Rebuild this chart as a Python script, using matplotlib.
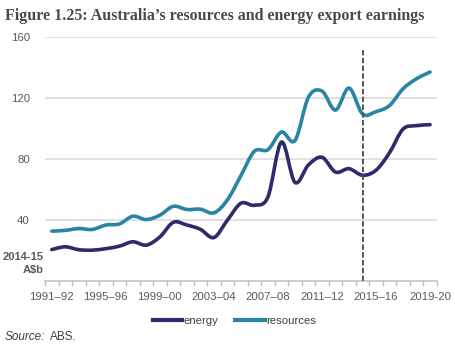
import matplotlib
matplotlib.use('Agg')
import matplotlib.pyplot as plt
import numpy as np
from matplotlib.path import Path
from matplotlib.patches import PathPatch

years = ['1991–92', '1992–93', '1993–94', '1994–95', '1995–96', '1996–97', '1997–98',
         '1998–99', '1999–00', '2000–01', '2001–02', '2002–03', '2003–04', '2004–05',
         '2005–06', '2006–07', '2007–08', '2008–09', '2009–10', '2010–11', '2011–12',
         '2012–13', '2013–14', '2014–15', '2015–16', '2016–17', '2017–18', '2018–19',
         '2019-20']
energy = [20.4, 22.2, 20.3, 20.0, 21.0, 22.6, 25.5, 23.3, 28.7, 38.3, 36.5, 33.7, 28.3,
          39.7, 50.8, 49.5, 55.0, 91.0, 64.5, 76.0, 81.0, 71.3, 73.5, 69.2, 72.5, 84.0,
          99.5, 101.8, 102.4]
resources = [32.5, 33.0, 34.2, 33.6, 36.5, 37.2, 42.3, 40.1, 43.0, 48.8, 46.7, 46.9, 44.5,
             53.0, 69.0, 85.0, 86.0, 97.6, 92.0, 120.5, 124.5, 112.0, 126.5, 109.5, 111.0,
             115.0, 126.0, 132.6, 137.0]

NAVY = '#2d2b6b'
TEAL = '#2a84a4'
GREY = '#595959'


def smooth_path(x, y, t=1/6):
    # catmull-rom style bezier through the data points (like excel smoothed lines)
    x = np.asarray(x, float)
    y = np.asarray(y, float)
    verts = [(x[0], y[0])]
    codes = [Path.MOVETO]
    n = len(x)
    for i in range(n - 1):
        i0 = max(i - 1, 0)
        i3 = min(i + 2, n - 1)
        c1 = (x[i] + (x[i + 1] - x[i0]) * t, y[i] + (y[i + 1] - y[i0]) * t)
        c2 = (x[i + 1] - (x[i3] - x[i]) * t, y[i + 1] - (y[i3] - y[i]) * t)
        verts += [c1, c2, (x[i + 1], y[i + 1])]
        codes += [Path.CURVE4] * 3
    return Path(verts, codes)


fig = plt.figure(figsize=(4.55, 3.46), dpi=100)
ax = fig.add_axes([0.099, 0.189, 0.861, 0.704])

xs = np.arange(len(years))
for vals, col in [(energy, NAVY), (resources, TEAL)]:
    ax.add_patch(PathPatch(smooth_path(xs, vals), facecolor='none', edgecolor=col,
                           lw=2.6, capstyle='round', joinstyle='round', zorder=3))
# empty lines for the legend
ax.plot([], [], color=NAVY, lw=3, label='energy')
ax.plot([], [], color=TEAL, lw=3, label='resources')

ax.vlines(years.index('2014–15'), 0, 152, colors='#555555', lw=1.4,
          linestyles=(0, (2.8, 1.2)), zorder=4)

ax.set_xlim(-0.5, len(years) - 0.5)
ax.set_ylim(0, 160)
ax.set_yticks([40, 80, 120, 160])
ax.yaxis.grid(True, color='#d9d9d9', lw=1.1)
ax.set_axisbelow(True)
for s in ['left', 'right', 'top']:
    ax.spines[s].set_visible(False)
ax.spines['bottom'].set_color('#bfbfbf')
ax.spines['bottom'].set_linewidth(1.1)

ax.set_xticks(xs[::4])
ax.set_xticklabels(years[::4])
ax.set_xticks(np.arange(-0.5, len(years), 1), minor=True)
ax.tick_params(axis='x', which='major', length=0, pad=8, labelsize=8.2, labelcolor=GREY)
ax.tick_params(axis='x', which='minor', length=3.5, color='#bfbfbf', width=1)
ax.tick_params(axis='y', length=0, pad=11, labelsize=8.2, labelcolor=GREY)
for lab in ax.get_xticklabels() + ax.get_yticklabels():
    lab.set_family('Liberation Sans')

fig.text(0.095, 0.238, '2014-15\nA$b', ha='right', va='center', fontsize=8,
         fontweight='bold', color=GREY, family='Liberation Sans', linespacing=1.35)

fig.text(0.011, 0.955, 'Figure 1.25: Australia\u2019s resources and energy export earnings',
         fontsize=11.5, fontweight='bold', color='#4a4a4a', family='Liberation Serif',
         ha='left', va='center')

leg = fig.legend(loc='center', bbox_to_anchor=(0.515, 0.073), ncol=2, frameon=False,
                 handlelength=2.6, handletextpad=0.1, columnspacing=1.5,
                 prop={'family': 'Liberation Sans', 'size': 8.2})
for t in leg.get_texts():
    t.set_color('#404040')

fig.text(0.011, 0.027, 'Source:', fontsize=8.5, style='italic', color='#404040',
         family='Liberation Sans', ha='left', va='center')
fig.text(0.11, 0.027, 'ABS.', fontsize=8.5, color='#404040',
         family='Liberation Sans', ha='left', va='center')

fig.savefig('out.png', dpi=100)
